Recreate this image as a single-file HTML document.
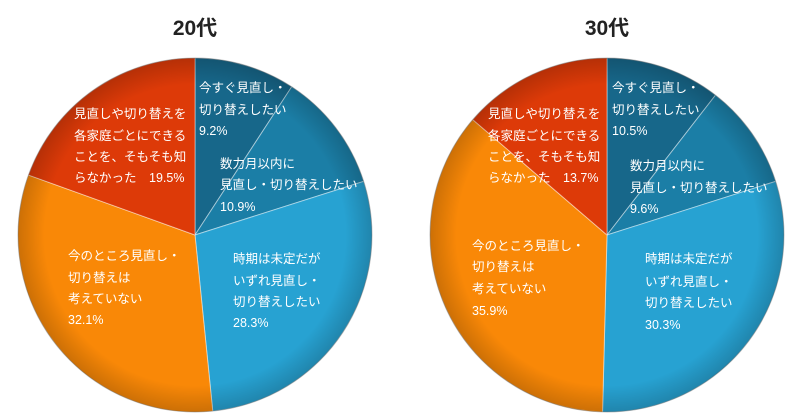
<!DOCTYPE html>
<html><head><meta charset="utf-8">
<style>
html,body{margin:0;padding:0;background:#fff;}
svg{display:block;}
text{font-family:"Liberation Sans","Noto Sans CJK JP",sans-serif;}
.l{fill:#fff;font-size:12.5px;}
.t{fill:#222;font-size:21px;font-weight:bold;}
</style></head><body>
<svg id="s" width="800" height="418" viewBox="0 0 800 418" xmlns="http://www.w3.org/2000/svg">
<defs>
<radialGradient id="sh" cx="0.5" cy="0.5" r="0.5">
<stop offset="0.85" stop-color="#000" stop-opacity="0"/>
<stop offset="1" stop-color="#000" stop-opacity="0.18"/>
</radialGradient>
</defs>
<g id="p1"></g>
<g id="p2"></g>
<text class="t" x="195" y="35" text-anchor="middle">20代</text>
<text class="t" x="607" y="35" text-anchor="middle">30代</text>

<text class="l" x="199" y="92">今すぐ見直し・</text>
<text class="l" x="199" y="114">切り替えしたい</text>
<text class="l" x="199" y="135">9.2%</text>
<text class="l" x="220" y="168">数力月以内に</text>
<text class="l" x="220" y="189">見直し・切り替えしたい</text>
<text class="l" x="220" y="211">10.9%</text>
<text class="l" x="233" y="263">時期は未定だが</text>
<text class="l" x="233" y="285">いずれ見直し・</text>
<text class="l" x="233" y="306">切り替えしたい</text>
<text class="l" x="233" y="327">28.3%</text>
<text class="l" x="68" y="260">今のところ見直し・</text>
<text class="l" x="68" y="282">切り替えは</text>
<text class="l" x="68" y="303">考えていない</text>
<text class="l" x="68" y="324">32.1%</text>
<text class="l" x="74" y="118">見直しや切り替えを</text>
<text class="l" x="74" y="140">各家庭ごとにできる</text>
<text class="l" x="74" y="161">ことを、そもそも知</text>
<text class="l" x="74" y="182">らなかった　19.5%</text>

<text class="l" x="612" y="92">今すぐ見直し・</text>
<text class="l" x="612" y="114">切り替えしたい</text>
<text class="l" x="612" y="135">10.5%</text>
<text class="l" x="630" y="170">数力月以内に</text>
<text class="l" x="630" y="192">見直し・切り替えしたい</text>
<text class="l" x="630" y="213">9.6%</text>
<text class="l" x="645" y="263">時期は未定だが</text>
<text class="l" x="645" y="286">いずれ見直し・</text>
<text class="l" x="645" y="307">切り替えしたい</text>
<text class="l" x="645" y="329">30.3%</text>
<text class="l" x="472" y="250">今のところ見直し・</text>
<text class="l" x="472" y="271">切り替えは</text>
<text class="l" x="472" y="293">考えていない</text>
<text class="l" x="472" y="315">35.9%</text>
<text class="l" x="488" y="118">見直しや切り替えを</text>
<text class="l" x="488" y="140">各家庭ごとにできる</text>
<text class="l" x="488" y="161">ことを、そもそも知</text>
<text class="l" x="488" y="182">らなかった　13.7%</text>
</svg>
<script>
var cols=["#17678a","#1b7ea6","#27a2d2","#f98807","#dd3a08"];
function pie(id,cx,cy,r,vals){
  var g=document.getElementById(id),ns="http://www.w3.org/2000/svg",a=0,h="";
  vals.forEach(function(v,i){
    var a0=a,a1=a+v/100*2*Math.PI;a=a1;
    var x0=cx+r*Math.sin(a0),y0=cy-r*Math.cos(a0),x1=cx+r*Math.sin(a1),y1=cy-r*Math.cos(a1);
    var lg=(a1-a0)>Math.PI?1:0;
    h+='<path d="M'+cx+','+cy+' L'+x0+','+y0+' A'+r+','+r+' 0 '+lg+' 1 '+x1+','+y1+' Z" fill="'+cols[i]+'" stroke="rgba(255,255,255,0.45)" stroke-width="1"/>';
  });
  h+='<circle cx="'+cx+'" cy="'+cy+'" r="'+r+'" fill="url(#sh)"/>';
  h+='<circle cx="'+cx+'" cy="'+cy+'" r="'+r+'" fill="none" stroke="rgba(0,0,0,0.25)" stroke-width="1"/>';
  g.innerHTML=h;
}
pie("p1",195,235,177,[9.2,10.9,28.3,32.1,19.5]);
pie("p2",607,235,177,[10.5,9.6,30.3,35.9,13.7]);
</script>
</body></html>
